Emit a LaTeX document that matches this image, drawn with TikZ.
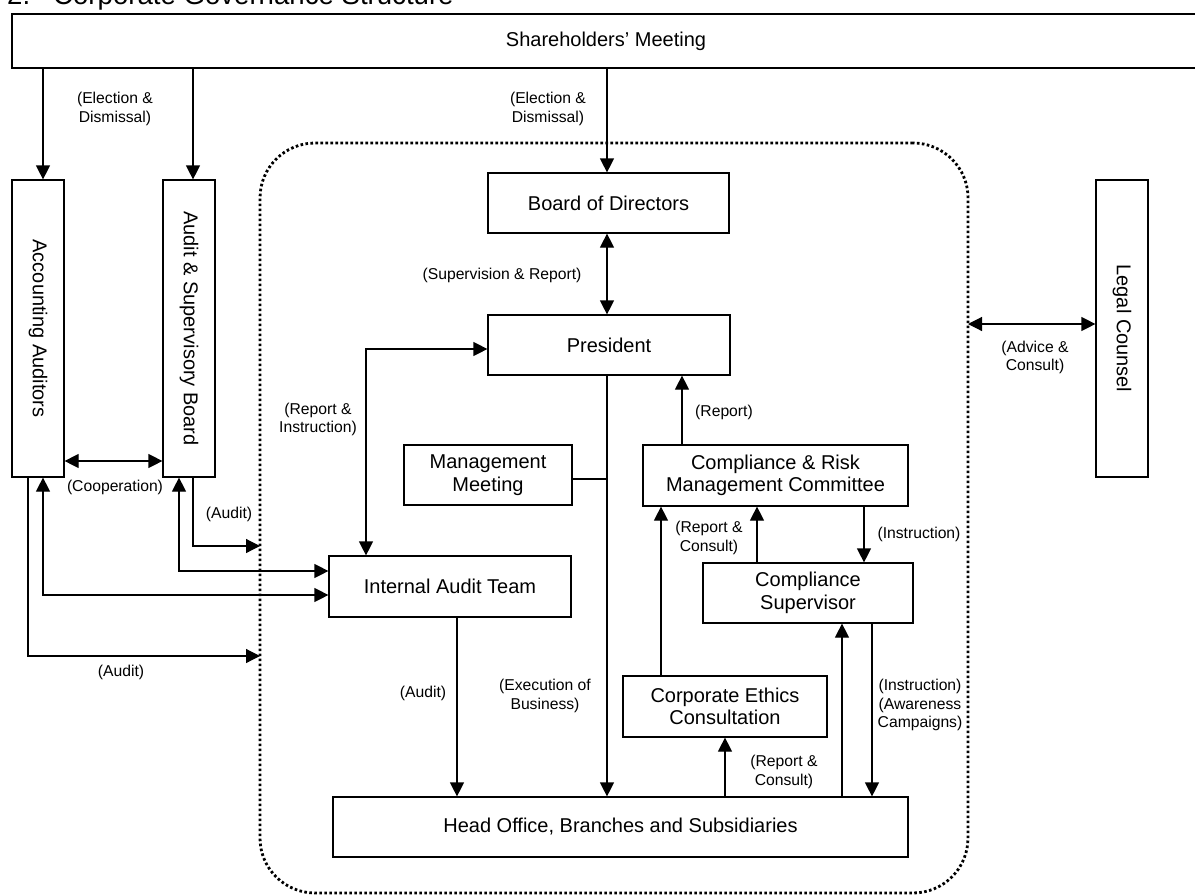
\documentclass[tikz,border=0pt]{standalone}
\usepackage{fontspec}
\setmainfont{Liberation Sans}
\usetikzlibrary{arrows.meta}
\begin{document}
\begin{tikzpicture}[x=1pt,y=-1pt,
  box/.style={draw, line width=1.2pt, align=center, inner sep=0pt, font=\fontsize{20}{22.5}\selectfont},
  lbl/.style={align=center, inner sep=0pt, font=\fontsize{15.7}{18.5}\selectfont},
  conn/.style={line width=1.2pt},
  arr/.style={conn, -{Triangle[length=14pt,width=14pt]}},
  darr/.style={conn, {Triangle[length=14pt,width=14pt]}-{Triangle[length=14pt,width=14pt]}},
  grpbox/.style={draw, line width=2.8pt, dash pattern=on 2.6pt off 2.4pt, rounded corners=55pt, outer sep=0pt, inner sep=0pt}
]
\useasboundingbox (0,0) rectangle (1195,895);

% title (partly cut off at the top, as in the reference)
\node[anchor=base west, inner sep=0pt, font=\fontsize{27.6}{30}\selectfont] (title) at (7,4) {2.\hspace{23pt}Corporate Governance Structure};

% group boundary
\node[grpbox, minimum width=708pt, minimum height=750pt] (grp) at (614,518) {};

% boxes
\node[box, minimum width=1188pt, minimum height=54pt] (sm) at (606,41) {Shareholders’ Meeting};
\node[box, minimum width=52pt, minimum height=297pt] (aa) at (38,328.5) {\rotatebox{-90}{Accounting Auditors}};
\node[box, minimum width=52pt, minimum height=297pt] (asb) at (189,328.5) {\rotatebox{-90}{Audit \& Supervisory Board}};
\node[box, minimum width=52pt, minimum height=297pt] (lc) at (1122,328.5) {\rotatebox{-90}{Legal Counsel}};
\node[box, minimum width=241pt, minimum height=60pt] (bod) at (608.5,203) {Board of Directors};
\node[box, minimum width=242pt, minimum height=60pt] (pres) at (609,345) {President};
\node[box, minimum width=168pt, minimum height=60pt] (mm) at (488,475) {Management\\Meeting};
\node[box, minimum width=265pt, minimum height=61pt] (crm) at (775.5,475.5) {Compliance \& Risk\\Management Committee};
\node[box, minimum width=242pt, minimum height=61pt] (iat) at (450,586.5) {Internal Audit Team};
\node[box, minimum width=210pt, minimum height=60pt] (cs) at (808,593) {Compliance\\Supervisor};
\node[box, minimum width=204pt, minimum height=61pt] (ce) at (725,706.5) {Corporate Ethics\\Consultation};
\node[box, minimum width=575pt, minimum height=60pt] (ho) at (620.5,827) {Head Office, Branches and Subsidiaries};

% helper columns and rows
\coordinate (cA) at (43,0);
\coordinate (cB) at (193,0);
\coordinate (cC) at (607,0);
\coordinate (cD) at (28,0);
\coordinate (cE) at (179,0);
\coordinate (cF) at (366,0);
\coordinate (cG) at (682,0);
\coordinate (cH) at (661,0);
\coordinate (cI) at (757,0);
\coordinate (cJ) at (864,0);
\coordinate (cK) at (457,0);
\coordinate (cL) at (725,0);
\coordinate (cM) at (842,0);
\coordinate (cN) at (872,0);
\coordinate (r461) at (0,461);
\coordinate (r546) at (0,546);
\coordinate (r571) at (0,571);
\coordinate (r595) at (0,595);
\coordinate (r656) at (0,656);
\coordinate (r349) at (0,349);
\coordinate (r479) at (0,479);
\coordinate (r324) at (0,324);

% connectors
\draw[arr] (sm.south -| cA) -- (aa.north -| cA);
\draw[arr] (sm.south -| cB) -- (asb.north -| cB);
\draw[arr] (sm.south -| cC) -- (bod.north -| cC);
\draw[darr] (aa.east |- r461) -- (asb.west |- r461);
\draw[arr] (asb.south -| cB) |- (grp.west |- r546);
\draw[darr] (asb.south -| cE) |- (iat.west |- r571);
\draw[darr] (aa.south -| cA) |- (iat.west |- r595);
\draw[arr] (aa.south -| cD) |- (grp.west |- r656);
\draw[darr] (bod.south -| cC) -- (pres.north -| cC);
\draw[darr] (iat.north -| cF) |- (pres.west |- r349);
\draw[arr] (pres.south -| cC) -- (ho.north -| cC);
\draw[conn] (mm.east |- r479) -- (r479 -| cC);
\draw[arr] (crm.north -| cG) -- (pres.south -| cG);
\draw[arr] (ce.north -| cH) -- (crm.south -| cH);
\draw[arr] (cs.north -| cI) -- (crm.south -| cI);
\draw[arr] (crm.south -| cJ) -- (cs.north -| cJ);
\draw[arr] (iat.south -| cK) -- (ho.north -| cK);
\draw[arr] (ho.north -| cL) -- (ce.south -| cL);
\draw[arr] (ho.north -| cM) -- (cs.south -| cM);
\draw[arr] (cs.south -| cN) -- (ho.north -| cN);
\draw[darr] (grp.east |- r324) -- (lc.west |- r324);

% labels
\node[lbl] (l1) at (115,109) {(Election \&\\Dismissal)};
\node[lbl] (l2) at (548,109) {(Election \&\\Dismissal)};
\node[lbl] (l3) at (115,487) {(Cooperation)};
\node[lbl] (l4) at (229,514) {(Audit)};
\node[lbl] (l5) at (121,672) {(Audit)};
\node[lbl] (l6) at (502,275) {(Supervision \& Report)};
\node[lbl] (l7) at (318,419.5) {(Report \&\\Instruction)};
\node[lbl] (l8) at (724,412) {(Report)};
\node[lbl] (l9) at (709,538) {(Report \&\\Consult)};
\node[lbl] (l10) at (919,534) {(Instruction)};
\node[lbl] (l11) at (423,693) {(Audit)};
\node[lbl] (l12) at (545,696) {(Execution of\\Business)};
\node[lbl] (l13) at (784,772) {(Report \&\\Consult)};
\node[lbl] (l14) at (920,705) {(Instruction)\\(Awareness\\Campaigns)};
\node[lbl] (l15) at (1035,357.5) {(Advice \&\\Consult)};
\end{tikzpicture}
\end{document}
